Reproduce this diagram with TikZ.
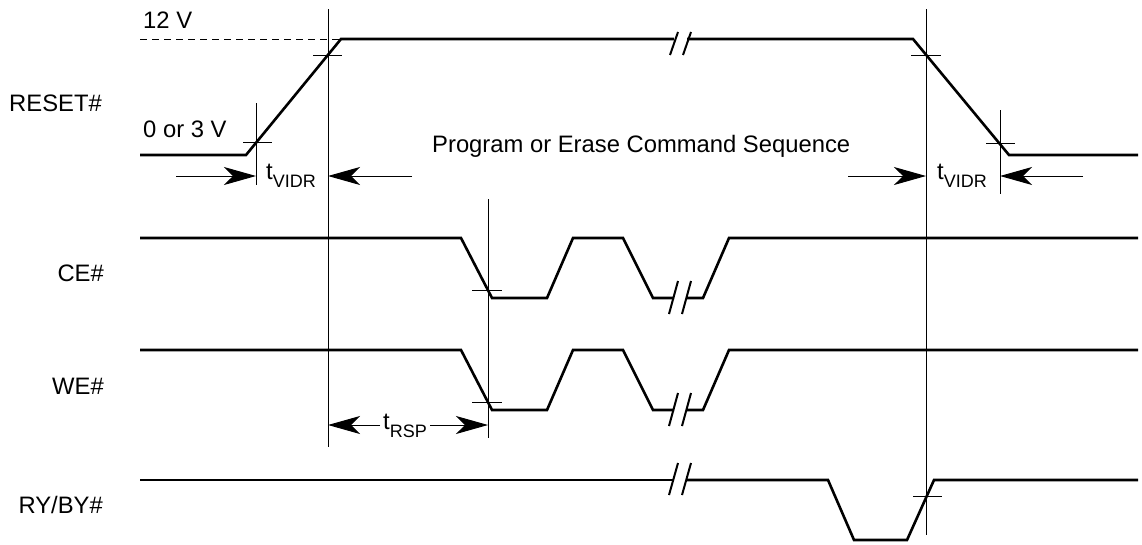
\documentclass[tikz,border=0pt]{standalone}
\usepackage{fontspec}
\setmainfont{Liberation Sans}
\usetikzlibrary{arrows.meta}
\newcommand{\sublow}[1]{\raisebox{-8pt}{\fontsize{18}{18}\selectfont #1}}
\begin{document}
\begin{tikzpicture}[x=1pt,y=-1pt,
  sig/.style={line width=2.6pt, line join=miter, line cap=butt},
  thinln/.style={line width=1pt},
  brk/.style={line width=2pt},
  lbl/.style={inner sep=0pt, font=\fontsize{23.8}{28}\selectfont},
  dim/.style={line width=1pt, -{Stealth[length=32pt,width=18pt,inset=9pt]}},
]
\useasboundingbox (0,0) rectangle (1142,544);

% signal labels
\node[lbl, anchor=base east] (lreset) at (102,111) {RESET\#};
\node[lbl, anchor=base east] (lce) at (104,281) {CE\#};
\node[lbl, anchor=base east] (lwe) at (104,394) {WE\#};
\node[lbl, anchor=base east] (lry) at (103,513) {RY/BY\#};

% other texts
\node[lbl, anchor=base west] (v12) at (143,28) {12 V};
\node[lbl, anchor=base west] (v03) at (143,137) {0 or 3 V};
\node[lbl, anchor=base west] (pes) at (432,152) {Program or Erase Command Sequence};
\node[lbl, anchor=base west] (tv1) at (266,179) {t\sublow{VIDR}};
\node[lbl, anchor=base west] (tv2) at (937,179) {t\sublow{VIDR}};
\node[lbl, anchor=base west] (trsp) at (383,429) {t\sublow{RSP}};

% reference coordinates
\coordinate (a1) at (176,176);
\coordinate (a2) at (256,176);
\coordinate (a3) at (412,176);
\coordinate (a4) at (328,176);
\coordinate (b1) at (848,176);
\coordinate (b2) at (926,176);
\coordinate (b3) at (1083,176);
\coordinate (b4) at (1000,176);
\coordinate (c1) at (328,425);
\coordinate (c2) at (488,425);

% vertical reference lines
\draw[thinln] (328,9) -- (328,447);
\draw[thinln] (488,199) -- (488,438);
\draw[thinln] (926,9) -- (926,535);
\draw[thinln] (256,103) -- (256,185);
\draw[thinln] (1000,110) -- (1000,194);

% crosshair ticks
\draw[thinln] (313,55) -- (342,55);
\draw[thinln] (243,142) -- (272,142);
\draw[thinln] (911,55) -- (941,55);
\draw[thinln] (986,143) -- (1015,143);
\draw[thinln] (472,290) -- (502,290);
\draw[thinln] (472,402) -- (502,402);
\draw[thinln] (913,496) -- (942,496);

% dashed 12 V level
\draw[thinln, dash pattern=on 7pt off 5pt] (140,39) -- (341,39);

% RESET#
\draw[sig] (140,155) -- (246,155) -- (341,39) -- (674,39);
\draw[sig] (687,39) -- (913,39) -- (1009,155) -- (1138,155);
\draw[brk] (670,55) -- (678,32);
\draw[brk] (683,55) -- (691,32);

% CE#
\draw[sig] (140,238) -- (461,238) -- (492,298) -- (547,298) -- (573,238) -- (623,238) -- (653,298) -- (674,298);
\draw[sig] (687,298) -- (703,298) -- (729,238) -- (1138,238);
\draw[brk] (669,314) -- (678,281);
\draw[brk] (682,314) -- (691,281);

% WE#
\draw[sig] (140,350) -- (461,350) -- (492,410) -- (547,410) -- (573,350) -- (623,350) -- (653,410) -- (674,410);
\draw[sig] (687,410) -- (703,410) -- (729,350) -- (1138,350);
\draw[brk] (669,426) -- (678,393);
\draw[brk] (682,426) -- (691,393);

% RY/BY#
\draw[sig] (140,480) -- (674,480);
\draw[sig] (687,480) -- (828,480) -- (854,540) -- (907,540) -- (934,480) -- (1138,480);
\draw[brk] (669,495) -- (678,463);
\draw[brk] (682,495) -- (691,463);

% dimension arrows
\draw[dim] (a1) -- (a2);
\draw[dim] (a3) -- (a4);
\draw[dim] (b1) -- (b2);
\draw[dim] (b3) -- (b4);
\draw[dim] (trsp.west |- c1) ++(-3,0) -- (c1);
\draw[dim] (trsp.east |- c2) ++(3,0) -- (c2);
\end{tikzpicture}
\end{document}
